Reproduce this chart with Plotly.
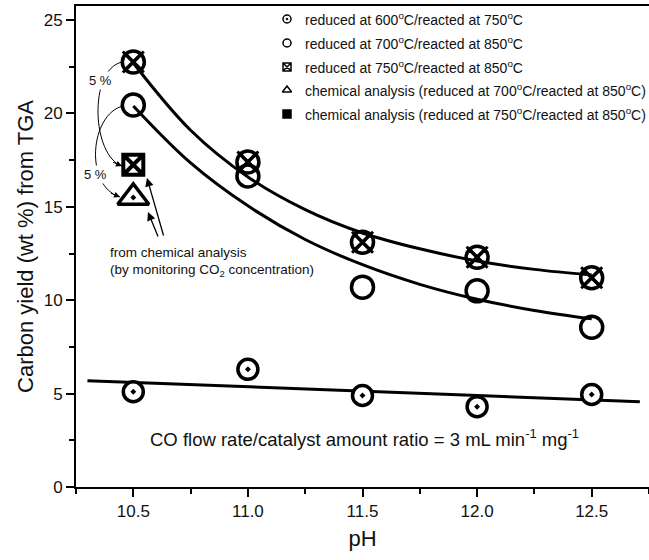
import plotly.graph_objects as go

# ---------------- data ----------------
ph = [10.5, 11.0, 11.5, 12.0, 12.5]
y_600_750 = [5.1, 6.3, 4.9, 4.3, 4.95]
y_700_850 = [20.45, 16.65, 10.7, 10.5, 8.55]
y_750_850 = [22.75, 17.4, 13.1, 12.3, 11.2]

chem_ph = [10.5]
chem_700_850 = [15.5]
chem_750_850 = [17.25]

# fitted curves
fit_ph = [10.5, 10.75, 11.0, 11.25, 11.5, 11.75, 12.0, 12.25, 12.5]
fit_750 = [22.7, 19.1, 16.6, 14.85, 13.6, 12.75, 12.1, 11.65, 11.35]
fit_700 = [20.4, 17.35, 15.05, 13.25, 11.9, 10.85, 10.05, 9.45, 9.0]
lin_ph = [10.30, 12.71]
lin_600 = [5.69, 4.57]

legend_names = [
    "reduced at 600<sup>o</sup>C/reacted at 750<sup>o</sup>C",
    "reduced at 700<sup>o</sup>C/reacted at 850<sup>o</sup>C",
    "reduced at 750<sup>o</sup>C/reacted at 850<sup>o</sup>C",
    "chemical analysis (reduced at 700<sup>o</sup>C/reacted at 850<sup>o</sup>C)",
    "chemical analysis (reduced at 750<sup>o</sup>C/reacted at 850<sup>o</sup>C)",
]
legend_symbols = ["circle-dot", "circle", "square-x", "triangle-up", "square-dot"]
legend_fill = ["white", "white", "white", "white", "black"]

BLACK = "#000000"
TXT = "#111111"

# plot-area geometry (pixels)
W, H = 649, 560
L, R, T, B = 76, 0, 6, 73
PW, PH = W - L - R, H - T - B
XR = [10.25, 12.75]
YR = [0, 25.75]


def px2data(px, py):
    return XR[0] + (px - L) / PW * (XR[1] - XR[0]), YR[0] + (T + PH - py) / PH * (YR[1] - YR[0])


def px2paper(px, py):
    return (px - L) / PW, (T + PH - py) / PH


fig = go.Figure()

# fit lines
fig.add_trace(go.Scatter(x=fit_ph, y=fit_750, mode="lines", line=dict(color=BLACK, width=3, shape="spline"),
                         showlegend=False, hoverinfo="skip"))
fig.add_trace(go.Scatter(x=fit_ph, y=fit_700, mode="lines", line=dict(color=BLACK, width=3, shape="spline"),
                         showlegend=False, hoverinfo="skip"))
fig.add_trace(go.Scatter(x=lin_ph, y=lin_600, mode="lines", line=dict(color=BLACK, width=3),
                         showlegend=False, hoverinfo="skip"))

# data markers
fig.add_trace(go.Scatter(x=ph, y=y_600_750, mode="markers", showlegend=False,
                         marker=dict(symbol="circle-dot", size=20, color="white",
                                     line=dict(color=BLACK, width=3.5))))
fig.add_trace(go.Scatter(x=ph, y=y_700_850, mode="markers", showlegend=False,
                         marker=dict(symbol="circle", size=22, color="rgba(0,0,0,0)",
                                     line=dict(color=BLACK, width=3.5))))
fig.add_trace(go.Scatter(x=ph, y=y_750_850, mode="markers", showlegend=False,
                         marker=dict(symbol="x-thin", size=21, color=BLACK,
                                     line=dict(color=BLACK, width=3))))
fig.add_trace(go.Scatter(x=ph, y=y_750_850, mode="markers", showlegend=False,
                         marker=dict(symbol="circle-x", size=22, color="rgba(0,0,0,0)",
                                     line=dict(color=BLACK, width=3.5))))
fig.add_trace(go.Scatter(x=chem_ph, y=chem_700_850, mode="markers", showlegend=False,
                         marker=dict(symbol="triangle-up-dot", size=27, color="white",
                                     line=dict(color=BLACK, width=3.5))))
fig.add_trace(go.Scatter(x=chem_ph, y=chem_750_850, mode="markers", showlegend=False,
                         marker=dict(symbol="square-x", size=20, color="white",
                                     line=dict(color=BLACK, width=4))))

annotations = []

# manual legend (symbols on an overlay axis in paper units, texts as annotations)
leg_rows = [19, 43, 67, 90, 114]
leg_sym_x, leg_txt_x = 287, 303
for name, sym, fc, ry in zip(legend_names, legend_symbols, legend_fill, leg_rows):
    sx, sy = px2paper(leg_sym_x, ry)
    fig.add_trace(go.Scatter(x=[sx], y=[sy], xaxis="x2", yaxis="y2", mode="markers", showlegend=False,
                             hoverinfo="skip",
                             marker=dict(symbol=sym, size=8, color=fc, line=dict(color=BLACK, width=1.5))))
    tx, ty = px2paper(leg_txt_x, ry)
    annotations.append(dict(x=tx, y=ty, xref="paper", yref="paper", xanchor="left", yanchor="middle",
                            showarrow=False, text=name, font=dict(family="Arial", size=14, color=TXT)))

# curved "5 %" arrows (cubic bezier paths, data coords)
def cpath(pts):
    d = [px2data(*p) for p in pts]
    return "M {},{} C {},{} {},{} {},{}".format(*[v for xy in d for v in xy])


curveA = [(122, 62), (88, 70), (92, 156), (122, 166)]
curveB = [(123, 106), (90, 114), (84, 186), (120, 197)]
for c in (curveA, curveB):
    fig.add_shape(type="path", path=cpath(c), xref="x", yref="y", line=dict(color=BLACK, width=1))

# arrowheads for curved arrows
for tip, back in [((122, 166), (110, 161)), ((120, 197), (108, 192))]:
    tx, ty = px2data(*tip)
    annotations.append(dict(x=tx, y=ty, xref="x", yref="y", ax=back[0] - tip[0], ay=back[1] - tip[1],
                            text=" ", showarrow=True, arrowhead=2, arrowsize=1.2, arrowwidth=1, arrowcolor=BLACK))
# "5 %" labels
for (lx, ly) in [(100, 80), (95, 174)]:
    dx, dy = px2data(lx, ly)
    annotations.append(dict(x=dx, y=dy, xref="x", yref="y", text="5 %", showarrow=False,
                            font=dict(family="Arial", size=13, color=TXT), bgcolor="white"))
# straight arrows
for tip, tail in [((147, 178), (166, 244)), ((148, 212), (161, 244))]:
    tx, ty = px2data(*tip)
    annotations.append(dict(x=tx, y=ty, xref="x", yref="y", ax=tail[0] - tip[0], ay=tail[1] - tip[1],
                            text=" ", showarrow=True, arrowhead=2, arrowsize=1.3, arrowwidth=1.3, arrowcolor=BLACK))
# text
fx, fy = px2data(108, 252)
annotations.append(dict(x=fx, y=fy, xref="x", yref="y", xanchor="left", yanchor="middle", showarrow=False,
                        text="from chemical analysis", font=dict(family="Arial", size=13.5, color=TXT)))
fx, fy = px2data(108, 270)
annotations.append(dict(x=fx, y=fy, xref="x", yref="y", xanchor="left", yanchor="middle", showarrow=False,
                        text="(by monitoring CO<sub>2</sub> concentration)", font=dict(family="Arial", size=13.5, color=TXT)))
fx, fy = px2data(364, 438)
annotations.append(dict(x=fx, y=fy, xref="x", yref="y", xanchor="center", yanchor="middle", showarrow=False,
                        text="CO flow rate/catalyst amount ratio = 3 mL min<sup>-1</sup> mg<sup>-1</sup>",
                        font=dict(family="Arial", size=18.5, color=TXT)))

fig.update_layout(
    width=W, height=H,
    margin=dict(l=L, r=R, t=T, b=B),
    plot_bgcolor="white", paper_bgcolor="white",
    font=dict(family="Arial", color=TXT),
    annotations=annotations,
    showlegend=False,
    xaxis=dict(range=XR, tickvals=[10.5, 11.0, 11.5, 12.0, 12.5],
               ticktext=["10.5", "11.0", "11.5", "12.0", "12.5"],
               showline=True, linecolor=BLACK, linewidth=2, mirror=True,
               ticks="outside", ticklen=8, tickwidth=2, tickcolor=BLACK,
               minor=dict(ticks="outside", ticklen=5, tickwidth=2, dtick=0.25, tick0=10.25, tickcolor=BLACK),
               showgrid=False, zeroline=False,
               tickfont=dict(family="Arial", size=17, color=TXT),
               title=dict(text="pH", font=dict(family="Arial", size=22, color=TXT), standoff=10)),
    yaxis=dict(range=YR, tickvals=[0, 5, 10, 15, 20, 25],
               showline=True, linecolor=BLACK, linewidth=2,
               ticks="outside", ticklen=8, tickwidth=2, tickcolor=BLACK,
               minor=dict(ticks="outside", ticklen=5, tickwidth=2, dtick=2.5, tick0=0, tickcolor=BLACK),
               showgrid=False, zeroline=False,
               tickfont=dict(family="Arial", size=17, color=TXT),
               title=dict(text="Carbon yield (wt %) from TGA", font=dict(family="Arial", size=22, color=TXT), standoff=4)),
    xaxis2=dict(overlaying="x", range=[0, 1], visible=False, fixedrange=True),
    yaxis2=dict(overlaying="y", range=[0, 1], visible=False, fixedrange=True),
)

fig.write_html("out.html")
